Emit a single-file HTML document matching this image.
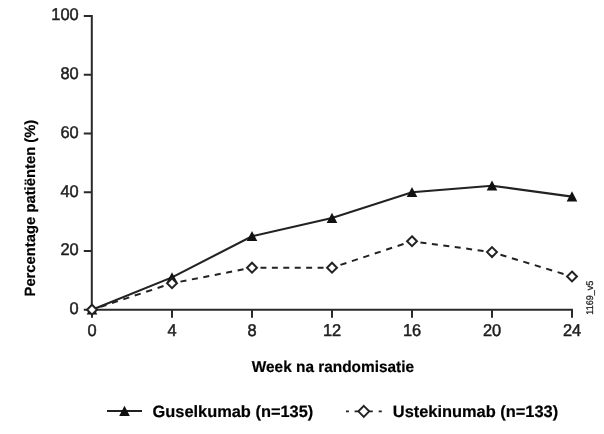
<!DOCTYPE html>
<html>
<head>
<meta charset="utf-8">
<title>Chart</title>
<style>
html,body{margin:0;padding:0;background:#fff;}
body{width:604px;height:434px;overflow:hidden;font-family:"Liberation Sans",sans-serif;}
svg{display:block;filter:blur(0.55px);}
text{font-family:"Liberation Sans",sans-serif;text-rendering:geometricPrecision;}
.tick{font-size:17px;fill:#1e1e1e;stroke:#1e1e1e;stroke-width:0.5px;}
.bold{font-weight:bold;fill:#000;stroke:#000;stroke-width:0.2px;}
</style>
</head>
<body>
<svg width="604" height="434" viewBox="0 0 604 434">
<rect x="0" y="0" width="604" height="434" fill="#ffffff"/>
<g stroke="#2a2a2a" stroke-width="2" fill="none">
<path d="M91.8 14.9 V309.7 H573"/>
<path d="M83.8 309.7 H91.8 M83.8 250.94 H91.8 M83.8 192.18 H91.8 M83.8 133.42 H91.8 M83.8 74.66 H91.8 M83.8 15.9 H91.8"/>
<path d="M92 309.7 V317.7 M172 309.7 V317.7 M252 309.7 V317.7 M332 309.7 V317.7 M412 309.7 V317.7 M492 309.7 V317.7 M572 309.7 V317.7"/>
</g>
<g class="tick" text-anchor="end">
<text transform="translate(78.7,314.1) scale(0.965,1)">0</text>
<text transform="translate(78.7,255.34) scale(0.965,1)">20</text>
<text transform="translate(78.7,196.58) scale(0.965,1)">40</text>
<text transform="translate(78.7,137.82) scale(0.965,1)">60</text>
<text transform="translate(78.7,79.06) scale(0.965,1)">80</text>
<text transform="translate(78.7,20.3) scale(0.965,1)">100</text>
</g>
<g class="tick" text-anchor="middle">
<text transform="translate(92,335.6) scale(0.965,1)">0</text>
<text transform="translate(172,335.6) scale(0.965,1)">4</text>
<text transform="translate(252,335.6) scale(0.965,1)">8</text>
<text transform="translate(332,335.6) scale(0.965,1)">12</text>
<text transform="translate(412,335.6) scale(0.965,1)">16</text>
<text transform="translate(492,335.6) scale(0.965,1)">20</text>
<text transform="translate(572,335.6) scale(0.965,1)">24</text>
</g>
<polyline points="92,309.7 172,277.382 252,236.25 332,218.034 412,192.18 492,185.716 572,196.587" fill="none" stroke="#222" stroke-width="2.1"/>
<g fill="#111">
<path d="M0 -5.25 L5.3 4.85 L-5.3 4.85 Z" transform="translate(92,309.7)"/>
<path d="M0 -5.25 L5.3 4.85 L-5.3 4.85 Z" transform="translate(172,277.382)"/>
<path d="M0 -5.25 L5.3 4.85 L-5.3 4.85 Z" transform="translate(252,236.25)"/>
<path d="M0 -5.25 L5.3 4.85 L-5.3 4.85 Z" transform="translate(332,218.034)"/>
<path d="M0 -5.25 L5.3 4.85 L-5.3 4.85 Z" transform="translate(412,192.18)"/>
<path d="M0 -5.25 L5.3 4.85 L-5.3 4.85 Z" transform="translate(492,185.716)"/>
<path d="M0 -5.25 L5.3 4.85 L-5.3 4.85 Z" transform="translate(572,196.587)"/>
</g>
<g fill="none" stroke="#222" stroke-width="2">
<path d="M92 309.7 L172 283.258" stroke-dasharray="6.259 5.778" stroke-dashoffset="3.130"/>
<path d="M172 283.258 L252 267.687" stroke-dasharray="6.054 5.589" stroke-dashoffset="3.027"/>
<path d="M252 267.687 L332 267.687" stroke-dasharray="5.943 5.486" stroke-dashoffset="2.971"/>
<path d="M332 267.687 L412 241.245" stroke-dasharray="6.259 5.778" stroke-dashoffset="3.130"/>
<path d="M412 241.245 L492 252.115" stroke-dasharray="5.997 5.536" stroke-dashoffset="2.999"/>
<path d="M492 252.115 L572 276.501" stroke-dasharray="6.213 5.735" stroke-dashoffset="3.106"/>
</g>
<g fill="#fff" stroke="#222" stroke-width="2">
<path d="M0 -4.95 L4.95 0 L0 4.95 L-4.95 0 Z" transform="translate(92,309.7)"/>
<path d="M0 -4.95 L4.95 0 L0 4.95 L-4.95 0 Z" transform="translate(172,283.258)"/>
<path d="M0 -4.95 L4.95 0 L0 4.95 L-4.95 0 Z" transform="translate(252,267.687)"/>
<path d="M0 -4.95 L4.95 0 L0 4.95 L-4.95 0 Z" transform="translate(332,267.687)"/>
<path d="M0 -4.95 L4.95 0 L0 4.95 L-4.95 0 Z" transform="translate(412,241.245)"/>
<path d="M0 -4.95 L4.95 0 L0 4.95 L-4.95 0 Z" transform="translate(492,252.115)"/>
<path d="M0 -4.95 L4.95 0 L0 4.95 L-4.95 0 Z" transform="translate(572,276.501)"/>
</g>
<text class="bold" transform="translate(332.9,372.4) scale(0.9747,1)" text-anchor="middle" font-size="15.8">Week na randomisatie</text>
<text class="bold" transform="translate(35.4,208.1) rotate(-90)" text-anchor="middle" font-size="14.8" stroke="#000" stroke-width="0.3">Percentage patiënten (%)</text>
<text transform="translate(592.5,297.7) rotate(-90) scale(0.93,1)" text-anchor="middle" font-size="9.7" fill="#1a1a1a" stroke="#1a1a1a" stroke-width="0.25">1169_v5</text>
<path d="M107 411 H142" stroke="#222" stroke-width="2"/>
<path d="M0 -5.25 L5.3 4.85 L-5.3 4.85 Z" transform="translate(124.5,411.1)" fill="#111"/>
<text class="bold" x="152.5" y="416.5" font-size="16.4">Guselkumab (n=135)</text>
<path d="M346 411.3 H348.9 M354.6 411.3 H372.8 M378.7 411.3 H381.8" stroke="#222" stroke-width="1.8"/>
<path d="M0 -5.5 L5.4 0 L0 5.5 L-5.4 0 Z" transform="translate(363.8,411.3)" fill="#fff" stroke="#222" stroke-width="1.9"/>
<text class="bold" x="392.8" y="416.5" font-size="16.4">Ustekinumab (n=133)</text>
</svg>
</body>
</html>
